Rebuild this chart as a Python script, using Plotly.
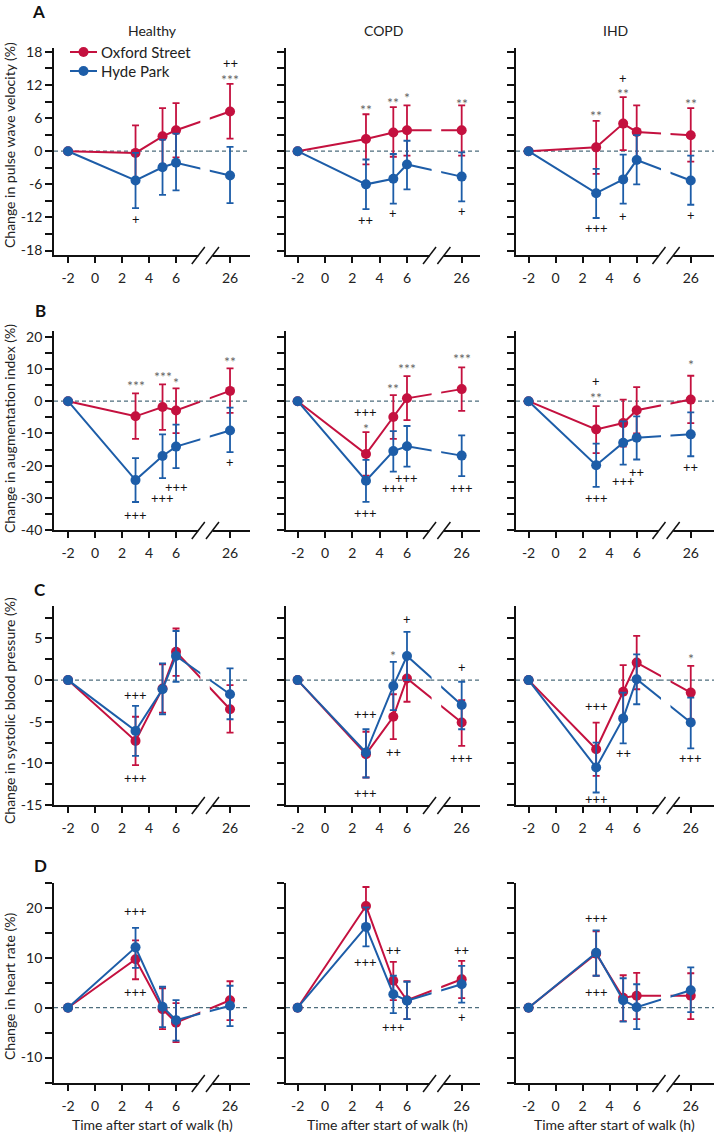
import plotly.graph_objects as go

W, H = 714, 1132
FONT = "Lato"
RED = "#C4113F"
BLUE = "#1D5DA8"
ZERO = "#4E6E7E"

# ---------------- data ----------------
hours = [-2, 3, 5, 6, 26]
x_tick_hours = [-2, 0, 2, 4, 6, 26]
groups = ["Healthy", "COPD", "IHD"]
series_names = ["Oxford Street", "Hyde Park"]
outcomes = [
    "Change in pulse wave velocity (%)",
    "Change in augmentation index (%)",
    "Change in systolic blood pressure (%)",
    "Change in heart rate (%)",
]
panel_letters = ["A", "B", "C", "D"]

# A: pulse wave velocity
pwv_healthy_oxford = [0, -0.3, 2.7, 3.8, 7.2]
pwv_healthy_oxford_lo = [0, -5.3, -2.4, -1.1, 2.3]
pwv_healthy_oxford_hi = [0, 4.7, 7.8, 8.7, 12.2]
pwv_healthy_hyde = [0, -5.3, -2.9, -2.1, -4.4]
pwv_healthy_hyde_lo = [0, -10.3, -7.9, -7.1, -9.4]
pwv_healthy_hyde_hi = [0, -0.3, 2.1, 3.2, 0.8]

pwv_copd_oxford = [0, 2.2, 3.4, 3.8, 3.8]
pwv_copd_oxford_lo = [0, -2.4, -1.0, -0.8, -0.8]
pwv_copd_oxford_hi = [0, 6.7, 8.0, 8.3, 8.3]
pwv_copd_hyde = [0, -6.0, -5.0, -2.4, -4.6]
pwv_copd_hyde_lo = [0, -10.5, -9.5, -6.9, -9.1]
pwv_copd_hyde_hi = [0, -1.5, -0.5, 1.9, -0.2]

pwv_ihd_oxford = [0, 0.7, 5.0, 3.5, 2.9]
pwv_ihd_oxford_lo = [0, -4.1, 0.2, -1.3, -1.9]
pwv_ihd_oxford_hi = [0, 5.5, 9.8, 8.3, 7.8]
pwv_ihd_hyde = [0, -7.6, -5.1, -1.6, -5.3]
pwv_ihd_hyde_lo = [0, -12.1, -9.5, -6.0, -9.7]
pwv_ihd_hyde_hi = [0, -3.2, -0.6, 2.9, -0.8]

# B: augmentation index
aix_healthy_oxford = [0, -4.7, -1.8, -2.9, 3.2]
aix_healthy_oxford_lo = [0, -11.7, -8.9, -9.9, -3.6]
aix_healthy_oxford_hi = [0, 2.4, 5.2, 4.0, 10.2]
aix_healthy_hyde = [0, -24.5, -17.0, -14.1, -9.1]
aix_healthy_hyde_lo = [0, -31.3, -23.9, -20.8, -15.8]
aix_healthy_hyde_hi = [0, -17.7, -10.3, -7.3, -2.0]

aix_copd_oxford = [0, -16.4, -4.9, 0.9, 3.75]
aix_copd_oxford_lo = [0, -23.1, -11.7, -5.9, -3.0]
aix_copd_oxford_hi = [0, -9.6, 1.9, 7.8, 10.5]
aix_copd_hyde = [0, -24.7, -15.5, -14.0, -16.9]
aix_copd_hyde_lo = [0, -31.25, -21.9, -20.3, -23.3]
aix_copd_hyde_hi = [0, -18.2, -9.3, -7.7, -10.6]

aix_ihd_oxford = [0, -8.75, -6.8, -2.8, 0.5]
aix_ihd_oxford_lo = [0, -16.1, -14.1, -10.0, -6.8]
aix_ihd_oxford_hi = [0, -1.5, 0.5, 4.4, 7.9]
aix_ihd_hyde = [0, -19.9, -12.9, -11.35, -10.3]
aix_ihd_hyde_lo = [0, -26.6, -19.7, -18.1, -17.1]
aix_ihd_hyde_hi = [0, -13.2, -6.25, -4.7, -3.5]

# C: systolic blood pressure
sbp_healthy_oxford = [0, -7.3, -1.0, 3.4, -3.5]
sbp_healthy_oxford_lo = [0, -10.2, -3.9, 0.5, -6.3]
sbp_healthy_oxford_hi = [0, -4.4, 1.9, 6.2, -0.6]
sbp_healthy_hyde = [0, -6.1, -1.1, 2.9, -1.7]
sbp_healthy_hyde_lo = [0, -9.1, -4.1, -0.2, -4.7]
sbp_healthy_hyde_hi = [0, -3.1, 2.0, 5.9, 1.4]

sbp_copd_oxford = [0, -8.9, -4.4, 0.2, -5.1]
sbp_copd_oxford_lo = [0, -11.7, -7.1, -2.6, -7.9]
sbp_copd_oxford_hi = [0, -6.2, -1.7, 2.9, -2.4]
sbp_copd_hyde = [0, -8.7, -0.7, 2.9, -3.0]
sbp_copd_hyde_lo = [0, -11.7, -3.6, 0.0, -5.9]
sbp_copd_hyde_hi = [0, -5.9, 2.2, 5.8, -0.2]

sbp_ihd_oxford = [0, -8.3, -1.4, 2.1, -1.5]
sbp_ihd_oxford_lo = [0, -11.5, -4.6, -1.1, -4.7]
sbp_ihd_oxford_hi = [0, -5.1, 1.8, 5.3, 1.7]
sbp_ihd_hyde = [0, -10.5, -4.6, 0.1, -5.1]
sbp_ihd_hyde_lo = [0, -13.5, -7.6, -2.9, -8.2]
sbp_ihd_hyde_hi = [0, -7.5, -1.5, 3.1, -2.1]

# D: heart rate
hr_healthy_oxford = [0, 9.7, -0.3, -3.0, 1.5]
hr_healthy_oxford_lo = [0, 5.7, -4.3, -6.9, -2.5]
hr_healthy_oxford_hi = [0, 13.5, 3.9, 0.9, 5.3]
hr_healthy_hyde = [0, 12.1, 0.2, -2.5, 0.4]
hr_healthy_hyde_lo = [0, 8.0, -3.9, -6.6, -3.7]
hr_healthy_hyde_hi = [0, 16.0, 4.2, 1.5, 4.4]

hr_copd_oxford = [0, 20.4, 5.4, 1.5, 5.7]
hr_copd_oxford_lo = [0, 16.4, 1.5, -2.3, 1.9]
hr_copd_oxford_hi = [0, 24.2, 9.2, 5.3, 9.4]
hr_copd_hyde = [0, 16.2, 2.7, 1.4, 4.7]
hr_copd_hyde_lo = [0, 12.3, -1.1, -2.3, 1.0]
hr_copd_hyde_hi = [0, 20.1, 6.4, 5.2, 8.4]

hr_ihd_oxford = [0, 10.8, 2.0, 2.4, 2.4]
hr_ihd_oxford_lo = [0, 6.4, -2.7, -2.3, -2.3]
hr_ihd_oxford_hi = [0, 15.3, 6.5, 7.0, 6.9]
hr_ihd_hyde = [0, 11.0, 1.5, 0.1, 3.5]
hr_ihd_hyde_lo = [0, 6.4, -2.8, -4.3, -0.9]
hr_ihd_hyde_hi = [0, 15.5, 5.9, 4.7, 8.1]

# significance marks: (hour, y, text)
pwv_healthy_marks = [(3, -12.3, "+"), (26, 15.9, "++"), (26, 13.7, "***")]
pwv_copd_marks = [(3, 8.2, "**"), (5, 9.6, "**"), (6, 10.5, "*"), (26, 9.4, "**"),
                  (3, -12.5, "++"), (5, -11.2, "+"), (26, -10.9, "+")]
pwv_ihd_marks = [(3, 7.2, "**"), (5, 13.2, "+"), (5, 11.1, "**"), (26, 9.4, "**"),
                 (3, -13.9, "+++"), (5, -11.8, "+"), (26, -11.5, "+")]
aix_healthy_marks = [(3, 6.25, "***"), (5, 9.0, "***"), (6, 7.1, "*"), (26, 13.5, "**"),
                     (3, -35.4, "+++"), (5, -30.2, "+++"), (6, -26.5, "+++"), (26, -18.75, "+")]
aix_copd_marks = [(3, -3.5, "+++"), (3, -7.2, "*"), (5, 5.3, "**"), (6, 11.25, "***"),
                  (26, 14.4, "***"), (5, -27.0, "+++"), (6, -24.0, "+++"), (26, -27.0, "+++"),
                  (3, -34.8, "+++")]
aix_ihd_marks = [(3, 6.4, "+"), (3, 2.4, "**"), (26, 12.5, "*"), (3, -30.1, "+++"),
                 (5, -24.7, "+++"), (6, -22.0, "++"), (26, -20.5, "++")]
sbp_healthy_marks = [(3, -1.8, "+++"), (3, -11.7, "+++")]
sbp_copd_marks = [(6, 7.3, "+"), (5, 3.4, "*"), (26, 1.6, "+"), (3, -4.1, "+++"),
                  (5, -8.6, "++"), (26, -9.3, "+++"), (3, -13.5, "+++")]
sbp_ihd_marks = [(26, 3.1, "*"), (3, -3.1, "+++"), (5, -8.8, "++"), (26, -9.4, "+++"),
                 (3, -14.3, "+++")]
hr_healthy_marks = [(3, 19.4, "+++"), (3, 3.1, "+++")]
hr_copd_marks = [(3, 26.5, "+++"), (3, 9.2, "+++"), (5, 11.5, "++"), (5, -3.8, "+++"),
                 (26, 11.5, "++"), (26, -1.9, "+")]
hr_ihd_marks = [(3, 17.9, "+++"), (3, 3.2, "+++")]

# y axes: (range, ticks, label step)
y_ranges = [(-18.8, 18.7), (-40, 21.8), (-15, 8.9), (-15.1, 25)]
y_ticks = [list(range(-18, 19, 3)), list(range(-40, 21, 5)),
           [-15 + 2.5 * i for i in range(10)], list(range(-15, 26, 5))]
y_label_step = [6, 10, 5, 10]

panels = {
    (0, 0): ((pwv_healthy_oxford, pwv_healthy_oxford_lo, pwv_healthy_oxford_hi),
             (pwv_healthy_hyde, pwv_healthy_hyde_lo, pwv_healthy_hyde_hi), pwv_healthy_marks),
    (0, 1): ((pwv_copd_oxford, pwv_copd_oxford_lo, pwv_copd_oxford_hi),
             (pwv_copd_hyde, pwv_copd_hyde_lo, pwv_copd_hyde_hi), pwv_copd_marks),
    (0, 2): ((pwv_ihd_oxford, pwv_ihd_oxford_lo, pwv_ihd_oxford_hi),
             (pwv_ihd_hyde, pwv_ihd_hyde_lo, pwv_ihd_hyde_hi), pwv_ihd_marks),
    (1, 0): ((aix_healthy_oxford, aix_healthy_oxford_lo, aix_healthy_oxford_hi),
             (aix_healthy_hyde, aix_healthy_hyde_lo, aix_healthy_hyde_hi), aix_healthy_marks),
    (1, 1): ((aix_copd_oxford, aix_copd_oxford_lo, aix_copd_oxford_hi),
             (aix_copd_hyde, aix_copd_hyde_lo, aix_copd_hyde_hi), aix_copd_marks),
    (1, 2): ((aix_ihd_oxford, aix_ihd_oxford_lo, aix_ihd_oxford_hi),
             (aix_ihd_hyde, aix_ihd_hyde_lo, aix_ihd_hyde_hi), aix_ihd_marks),
    (2, 0): ((sbp_healthy_oxford, sbp_healthy_oxford_lo, sbp_healthy_oxford_hi),
             (sbp_healthy_hyde, sbp_healthy_hyde_lo, sbp_healthy_hyde_hi), sbp_healthy_marks),
    (2, 1): ((sbp_copd_oxford, sbp_copd_oxford_lo, sbp_copd_oxford_hi),
             (sbp_copd_hyde, sbp_copd_hyde_lo, sbp_copd_hyde_hi), sbp_copd_marks),
    (2, 2): ((sbp_ihd_oxford, sbp_ihd_oxford_lo, sbp_ihd_oxford_hi),
             (sbp_ihd_hyde, sbp_ihd_hyde_lo, sbp_ihd_hyde_hi), sbp_ihd_marks),
    (3, 0): ((hr_healthy_oxford, hr_healthy_oxford_lo, hr_healthy_oxford_hi),
             (hr_healthy_hyde, hr_healthy_hyde_lo, hr_healthy_hyde_hi), hr_healthy_marks),
    (3, 1): ((hr_copd_oxford, hr_copd_oxford_lo, hr_copd_oxford_hi),
             (hr_copd_hyde, hr_copd_hyde_lo, hr_copd_hyde_hi), hr_copd_marks),
    (3, 2): ((hr_ihd_oxford, hr_ihd_oxford_lo, hr_ihd_oxford_hi),
             (hr_ihd_hyde, hr_ihd_hyde_lo, hr_ihd_hyde_hi), hr_ihd_marks),
}

# ---------------- layout geometry (pixels) ----------------
col_px = [(54, 250), (286, 480), (516, 714)]
row_px = [(48, 255), (331, 530), (606, 805), (883, 1083)]
x_ranges = [(-3.04, 11.48), (-2.85, 11.34), (-2.93, 11.72)]
GAP = (7.8, 8.5)          # where lines are interrupted (display units)
SLASH = (7.65, 8.7)       # centres of the axis-break marks


def xpos(h):
    """Broken time axis: hours after 6 are compressed (26 h drawn at 10)."""
    return h if h <= 6 else h - 16


fig = go.Figure()
shapes = []
annotations = []
layout_axes = {}

for (r, c), (ox, hy, marks) in panels.items():
    k = r * 3 + c + 1
    xid = "x" if k == 1 else f"x{k}"
    yid = "y" if k == 1 else f"y{k}"
    l, rr = col_px[c]
    t, b = row_px[r]
    x0r, x1r = x_ranges[c]

    yt = y_ticks[r]
    ylab = [(str(int(v)) if (v % y_label_step[r] == 0) else "") if c == 0 else "" for v in yt]

    layout_axes["xaxis" if k == 1 else f"xaxis{k}"] = dict(
        domain=[l / W, rr / W], range=[x0r, x1r], anchor=yid, automargin=False,
        tickvals=[xpos(h) for h in x_tick_hours], ticktext=[str(h) for h in x_tick_hours],
        ticks="outside", ticklen=6, tickwidth=1.5, tickcolor="#111",
        showline=True, linewidth=1.8, linecolor="#111", ticklabelstandoff=3,
        showgrid=False, zeroline=False, fixedrange=True,
        tickfont=dict(family=FONT, size=14, color="#222"),
    )
    layout_axes["yaxis" if k == 1 else f"yaxis{k}"] = dict(
        domain=[1 - b / H, 1 - t / H], range=list(y_ranges[r]), anchor=xid, automargin=False,
        tickvals=yt, ticktext=ylab,
        ticks="outside", ticklen=7, tickwidth=1.5, tickcolor="#111",
        showline=True, linewidth=1.8, linecolor="#111",
        showgrid=False, zeroline=False, fixedrange=True,
        tickfont=dict(family=FONT, size=14, color="#222"),
    )

    xs = [xpos(h) for h in hours]
    for name, color, (m, lo, hi) in ((series_names[0], RED, ox), (series_names[1], BLUE, hy)):
        fig.add_trace(go.Scatter(
            x=xs, y=m, mode="lines+markers", name=name,
            xaxis=xid, yaxis=yid, showlegend=False,
            line=dict(color=color, width=2),
            marker=dict(color=color, size=10),
            error_y=dict(type="data", symmetric=False,
                         array=[h_ - m_ for h_, m_ in zip(hi, m)],
                         arrayminus=[m_ - l_ for m_, l_ in zip(m, lo)],
                         color=color, thickness=1.8, width=3.5),
            cliponaxis=False,
        ))

    # dashed zero reference line
    shapes.append(dict(type="line", xref=f"{xid} domain", x0=0, x1=1, yref=yid, y0=0, y1=0,
                       line=dict(color=ZERO, width=1.3, dash="4px,3px"), layer="below"))
    # interruption of the lines across the axis break
    shapes.append(dict(type="rect", xref=xid, x0=GAP[0], x1=GAP[1],
                       yref=f"{yid} domain", y0=0.02, y1=1.0,
                       fillcolor="white", line=dict(width=0), layer="above"))
    shapes.append(dict(type="line", xref=xid, x0=GAP[0] - 0.1, x1=GAP[1] + 0.1, yref=yid, y0=0, y1=0,
                       line=dict(color=ZERO, width=1.3, dash="4px,3px"), layer="above"))

    # axis-break marks "//" (paper coordinates)
    def px_of(d):
        return l + (d - x0r) / (x1r - x0r) * (rr - l)

    shapes.append(dict(type="rect", xref="paper", yref="paper",
                       x0=px_of(SLASH[0]) / W, x1=px_of(SLASH[1]) / W,
                       y0=1 - (b + 2.5) / H, y1=1 - (b - 2.5) / H,
                       fillcolor="white", line=dict(width=0), layer="above"))
    for sc in SLASH:
        cx = px_of(sc)
        shapes.append(dict(type="line", xref="paper", yref="paper",
                           x0=(cx - 6.5) / W, y0=1 - (b + 9) / H,
                           x1=(cx + 6.5) / W, y1=1 - (b - 8) / H,
                           line=dict(color="#111", width=1.5), layer="above"))

    # significance marks
    for h, yv, txt in marks:
        star = txt.startswith("*")
        annotations.append(dict(
            x=xpos(h), y=yv, xref=xid, yref=yid, text=txt, showarrow=False,
            xanchor="center", yanchor="middle", yshift=-4 if star else 0,
            font=dict(family=FONT, size=14 if star else 13, color="#666" if star else "#111"),
        ))

# legend (drawn inside panel A, Healthy)
for i, (name, color) in enumerate(zip(series_names, (RED, BLUE))):
    ly = 1 - (52 + 19 * i) / H
    shapes.append(dict(type="line", xref="paper", yref="paper",
                       x0=70 / W, x1=97 / W, y0=ly, y1=ly,
                       line=dict(color=color, width=2), layer="above"))
    shapes.append(dict(type="circle", xref="paper", yref="paper",
                       x0=(83.5 - 5) / W, x1=(83.5 + 5) / W,
                       y0=ly - 5 / H, y1=ly + 5 / H,
                       fillcolor=color, line=dict(color=color, width=0), layer="above"))
    annotations.append(dict(x=99 / W, y=ly, xref="paper", yref="paper", text=name,
                            showarrow=False, xanchor="left", yanchor="middle",
                            font=dict(family=FONT, size=15, color="#222")))

# column titles
col_centres = [152, 383, 615]
for c, g in enumerate(groups):
    annotations.append(dict(x=col_centres[c] / W, y=1 - 31 / H, xref="paper", yref="paper",
                            text=g, showarrow=False, xanchor="center", yanchor="middle",
                            font=dict(family=FONT, size=14, color="#222")))

# panel letters
letter_pos = [(38, 9), (40, 311), (40, 589), (40, 865)]
for r, letter in enumerate(panel_letters):
    lx, ly = letter_pos[r]
    annotations.append(dict(x=lx / W, y=(1 - ly / H) if r else 1.0, xref="paper", yref="paper",
                            text=f"<b>{letter}</b>", showarrow=False,
                            xanchor="center", yanchor="top" if r == 0 else "middle",
                            borderpad=0,
                            font=dict(family=FONT, size=17, color="#111")))

# y-axis titles
ytitle_y = [145, 429, 711, 987]
for r, ttl in enumerate(outcomes):
    annotations.append(dict(x=9 / W, y=1 - ytitle_y[r] / H, xref="paper", yref="paper",
                            text=ttl, textangle=-90, showarrow=False,
                            xanchor="center", yanchor="middle",
                            font=dict(family=FONT, size=14, color="#222")))

# x-axis titles (bottom row)
xtitle_x = [152, 388, 614]
for c in range(3):
    annotations.append(dict(x=xtitle_x[c] / W, y=1 - 1124 / H, xref="paper", yref="paper",
                            text="Time after start of walk (h)", showarrow=False,
                            xanchor="center", yanchor="middle",
                            font=dict(family=FONT, size=14, color="#222")))

fig.update_layout(
    width=W, height=H,
    margin=dict(l=0, r=0, t=0, b=0, autoexpand=False),
    paper_bgcolor="white", plot_bgcolor="white",
    font=dict(family=FONT, size=14, color="#222"),
    shapes=shapes, annotations=annotations,
    showlegend=False,
    **layout_axes,
)

fig.write_html("out.html", config={"displayModeBar": False},
               post_script="document.body.style.margin='0px';document.body.style.overflow='hidden';")
